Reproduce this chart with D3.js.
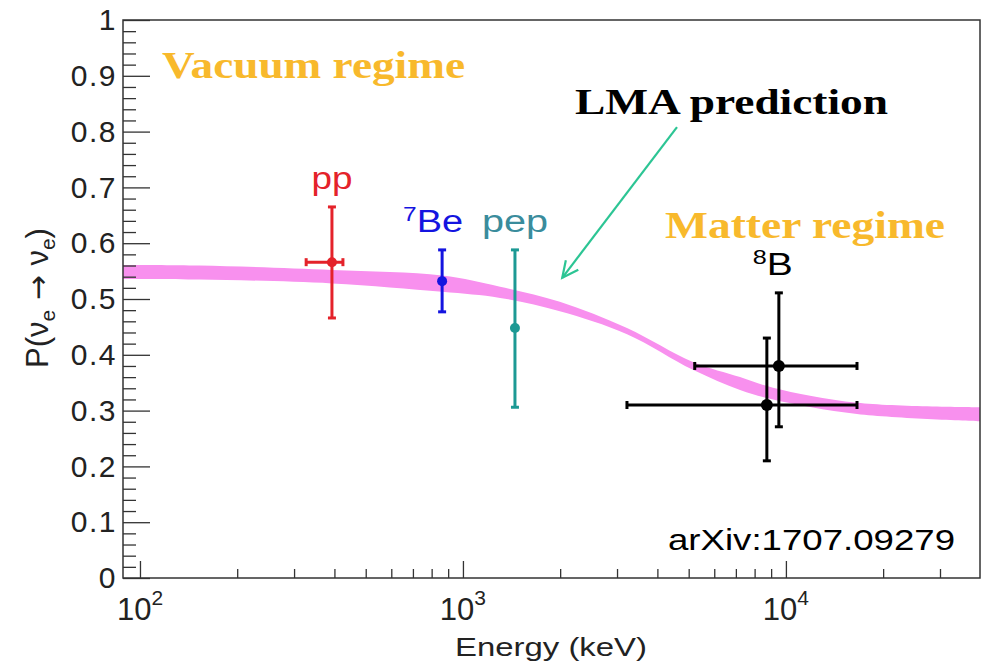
<!DOCTYPE html>
<html>
<head>
<meta charset="utf-8">
<script src="https://cdn.jsdelivr.net/npm/d3@7"></script>
<style>
  body { margin: 0; background: #fff; }
  svg { display: block; }
</style>
</head>
<body>
<svg width="985" height="664"></svg>
<script>
// measured points (energy in keV, survival probability)
var pointNames = ["pp", "7Be", "pep", "8B", "8B"];
var energy   = [393, 862, 1449, 9510, 8730];
var energyLo = [327, 862, 1449, 5220, 3220];
var energyHi = [425, 862, 1449, 16600, 16600];
var prob   = [0.566, 0.532, 0.448, 0.380, 0.310];
var probLo = [0.466, 0.477, 0.306, 0.271, 0.210];
var probHi = [0.665, 0.588, 0.588, 0.511, 0.430];

// LMA prediction band
var bandEnergy = [88.6, 153, 393, 861, 1303, 1995, 3221, 5152, 7211, 9120, 16600, 39900];
var bandLow  = [0.536, 0.535, 0.528, 0.513, 0.502, 0.478, 0.437, 0.373, 0.337, 0.320, 0.294, 0.281];
var bandHigh = [0.561, 0.560, 0.552, 0.542, 0.522, 0.495, 0.448, 0.387, 0.360, 0.341, 0.314, 0.306];

var yTicks = [0, 0.1, 0.2, 0.3, 0.4, 0.5, 0.6, 0.7, 0.8, 0.9, 1];
var xTicks = [100, 1000, 10000];

var colors = {"pp": "#e4222a", "7Be": "#1414e0", "pep": "#1c9994", "8B": "#000000"};
var labelColors = {"pp": "#e4222a", "7Be": "#1414e0", "pep": "#3a8c9c", "8B": "#000000"};

var svg = d3.select("svg");
var axisFont = "'Liberation Sans', Arial, sans-serif";
var serifFont = "'Liberation Serif', 'Times New Roman', serif";

var x = d3.scaleLog().domain([88.6, 39900]).range([123, 980]);
var y = d3.scaleLinear().domain([0, 1]).range([578, 20]);

// band
var band = bandEnergy.map(function(e, i) { return {e: e, lo: bandLow[i], hi: bandHigh[i]}; });
svg.append("path")
    .datum(band)
    .attr("fill", "#f890ee")
    .attr("d", d3.area()
        .x(function(d) { return x(d.e); })
        .y0(function(d) { return y(d.lo); })
        .y1(function(d) { return y(d.hi); })
        .curve(d3.curveCatmullRom.alpha(0.5)));

// y axis, ticks point into the frame
var yMinor = d3.range(0, 1.0001, 0.02).filter(function(v) { return Math.abs(v * 10 - Math.round(v * 10)) > 1e-6; });
svg.append("g")
    .attr("transform", "translate(123,0)")
    .call(d3.axisLeft(y).tickValues(yMinor).tickSize(-13).tickFormat(""))
    .call(function(g) { g.select(".domain").remove(); });

var yAx = svg.append("g")
    .attr("transform", "translate(123,0)")
    .call(d3.axisLeft(y).tickValues(yTicks).tickSize(-27).tickPadding(6)
        .tickFormat(function(d) { return String(+d.toFixed(1)); }));
yAx.select(".domain").remove();
yAx.selectAll("text")
    .attr("font-family", axisFont)
    .attr("font-size", 30)
    .attr("letter-spacing", 1.5)
    .attr("fill", "#222");

// x axis
var xMinor = [];
[100, 1000, 10000].forEach(function(dec) {
    for (var k = 2; k <= 9; k++) {
        if (dec * k <= 39900) xMinor.push(dec * k);
    }
});
svg.append("g")
    .attr("transform", "translate(0,578)")
    .call(d3.axisBottom(x).tickValues(xMinor).tickSize(-9).tickFormat(""))
    .call(function(g) { g.select(".domain").remove(); });

var xAx = svg.append("g")
    .attr("transform", "translate(0,578)")
    .call(d3.axisBottom(x).tickValues(xTicks).tickSize(-17).tickFormat(""));
xAx.select(".domain").remove();
svg.selectAll(".tick line").attr("stroke", "#333").attr("stroke-width", 1.3);

var xLab = svg.append("g").selectAll("text")
    .data(xTicks)
    .enter().append("text")
    .attr("x", function(d) { return x(d); })
    .attr("y", 620)
    .attr("text-anchor", "middle")
    .attr("font-family", axisFont)
    .attr("font-size", 31)
    .attr("fill", "#222");
xLab.append("tspan").text("10");
xLab.append("tspan")
    .attr("dy", -15)
    .attr("font-size", 21)
    .text(function(d) { return Math.round(Math.log10(d)); });

// frame
svg.append("rect")
    .attr("x", 123).attr("y", 20)
    .attr("width", 980 - 123).attr("height", 578 - 20)
    .attr("fill", "none")
    .attr("stroke", "#333")
    .attr("stroke-width", 1.5);

// axis titles
svg.append("text")
    .attr("x", 647).attr("y", 656)
    .attr("text-anchor", "end")
    .attr("font-family", axisFont)
    .attr("font-size", 26)
    .attr("fill", "#222")
    .attr("textLength", 192)
    .attr("lengthAdjust", "spacingAndGlyphs")
    .text("Energy (keV)");

var yTitle = svg.append("text")
    .attr("transform", "translate(48,298) rotate(-90)")
    .attr("text-anchor", "middle")
    .attr("font-family", axisFont)
    .attr("font-size", 31)
    .attr("fill", "#222");
yTitle.append("tspan").text("P(ν");
yTitle.append("tspan").attr("dy", 7).attr("font-size", 21).text("e");
yTitle.append("tspan").attr("dy", -7).attr("font-family", "'DejaVu Sans', sans-serif").attr("font-size", 30).text(" → ");
yTitle.append("tspan").text("ν");
yTitle.append("tspan").attr("dy", 7).attr("font-size", 21).text("e");
yTitle.append("tspan").attr("dy", -7).text(")");

// error bars
var pts = pointNames.map(function(n, i) {
    return {name: n, e: energy[i], e0: energyLo[i], e1: energyHi[i], p: prob[i], p0: probLo[i], p1: probHi[i]};
});

var gp = svg.append("g").selectAll("g")
    .data(pts)
    .enter().append("g")
    .attr("stroke", function(d) { return colors[d.name]; })
    .attr("fill", function(d) { return colors[d.name]; })
    .attr("stroke-width", 3);

gp.append("line")
    .attr("x1", function(d) { return x(d.e); })
    .attr("x2", function(d) { return x(d.e); })
    .attr("y1", function(d) { return y(d.p0); })
    .attr("y2", function(d) { return y(d.p1); });
["p0", "p1"].forEach(function(k) {
    gp.append("line")
        .attr("x1", function(d) { return x(d.e) - 4; })
        .attr("x2", function(d) { return x(d.e) + 4; })
        .attr("y1", function(d) { return y(d[k]); })
        .attr("y2", function(d) { return y(d[k]); });
});

var gh = gp.filter(function(d) { return d.e1 > d.e0; });
gh.append("line")
    .attr("x1", function(d) { return x(d.e0); })
    .attr("x2", function(d) { return x(d.e1); })
    .attr("y1", function(d) { return y(d.p); })
    .attr("y2", function(d) { return y(d.p); });
["e0", "e1"].forEach(function(k) {
    gh.append("line")
        .attr("x1", function(d) { return x(d[k]); })
        .attr("x2", function(d) { return x(d[k]); })
        .attr("y1", function(d) { return y(d.p) - 4; })
        .attr("y2", function(d) { return y(d.p) + 4; });
});

gp.append("circle")
    .attr("cx", function(d) { return x(d.e); })
    .attr("cy", function(d) { return y(d.p); })
    .attr("r", function(d) { return d.name == "8B" ? 6 : 5; })
    .attr("stroke", "none");

// source labels
var labels = [
    {name: "pp", i: 0, dx: 0, w: 41},
    {name: "7Be", i: 1, dx: -9, w: 60},
    {name: "pep", i: 2, dx: 0, w: 66},
    {name: "8B", i: 3, dx: -6, w: 40}
];
var lt = svg.append("g").selectAll("text")
    .data(labels)
    .enter().append("text")
    .attr("x", function(d) { return x(energy[d.i]) + d.dx; })
    .attr("y", function(d) { return y(probHi[d.i]) - 18; })
    .attr("text-anchor", "middle")
    .attr("font-family", axisFont)
    .attr("font-size", 31)
    .attr("textLength", function(d) { return d.w; })
    .attr("lengthAdjust", "spacingAndGlyphs")
    .attr("fill", function(d) { return labelColors[d.name]; });
lt.each(function(d) {
    var t = d3.select(this);
    var m = d.name.match(/^(\d+)(.*)$/);
    if (m) {
        t.append("tspan").attr("font-size", 20).attr("dy", -11).text(m[1]);
        t.append("tspan").attr("dy", 11).text(m[2]);
    } else {
        t.text(d.name);
    }
});

// annotations
svg.append("text")
    .attr("x", 162).attr("y", 78)
    .attr("font-family", serifFont)
    .attr("font-weight", "bold")
    .attr("font-size", 38)
    .attr("fill", "#f8b92c")
    .attr("textLength", 303)
    .attr("lengthAdjust", "spacingAndGlyphs")
    .text("Vacuum regime");

svg.append("text")
    .attr("x", 665).attr("y", 238)
    .attr("font-family", serifFont)
    .attr("font-weight", "bold")
    .attr("font-size", 38)
    .attr("fill", "#f8b92c")
    .attr("textLength", 280)
    .attr("lengthAdjust", "spacingAndGlyphs")
    .text("Matter regime");

svg.append("text")
    .attr("x", 575).attr("y", 114)
    .attr("font-family", serifFont)
    .attr("font-weight", "bold")
    .attr("font-size", 36)
    .attr("fill", "#000")
    .attr("textLength", 313)
    .attr("lengthAdjust", "spacingAndGlyphs")
    .text("LMA prediction");

svg.append("text")
    .attr("x", 955).attr("y", 550)
    .attr("text-anchor", "end")
    .attr("font-family", axisFont)
    .attr("font-size", 30)
    .attr("fill", "#000")
    .attr("textLength", 287)
    .attr("lengthAdjust", "spacingAndGlyphs")
    .text("arXiv:1707.09279");

// arrow from the LMA label to the band
var arrowFrom = [4600, 0.808], arrowTo = [2030, 0.538];
var ax0 = x(arrowFrom[0]), ay0 = y(arrowFrom[1]), ax1 = x(arrowTo[0]), ay1 = y(arrowTo[1]);
var ang = Math.atan2(ay1 - ay0, ax1 - ax0);
var head = 18, spread = 0.45;
var arrow = svg.append("g")
    .attr("stroke", "#2cc594")
    .attr("stroke-width", 2.2)
    .attr("fill", "none");
arrow.append("line")
    .attr("x1", ax0).attr("y1", ay0)
    .attr("x2", ax1).attr("y2", ay1);
arrow.append("path")
    .attr("d", "M" + (ax1 - head * Math.cos(ang - spread)) + "," + (ay1 - head * Math.sin(ang - spread)) +
        "L" + ax1 + "," + ay1 +
        "L" + (ax1 - head * Math.cos(ang + spread)) + "," + (ay1 - head * Math.sin(ang + spread)));
</script>
</body>
</html>
